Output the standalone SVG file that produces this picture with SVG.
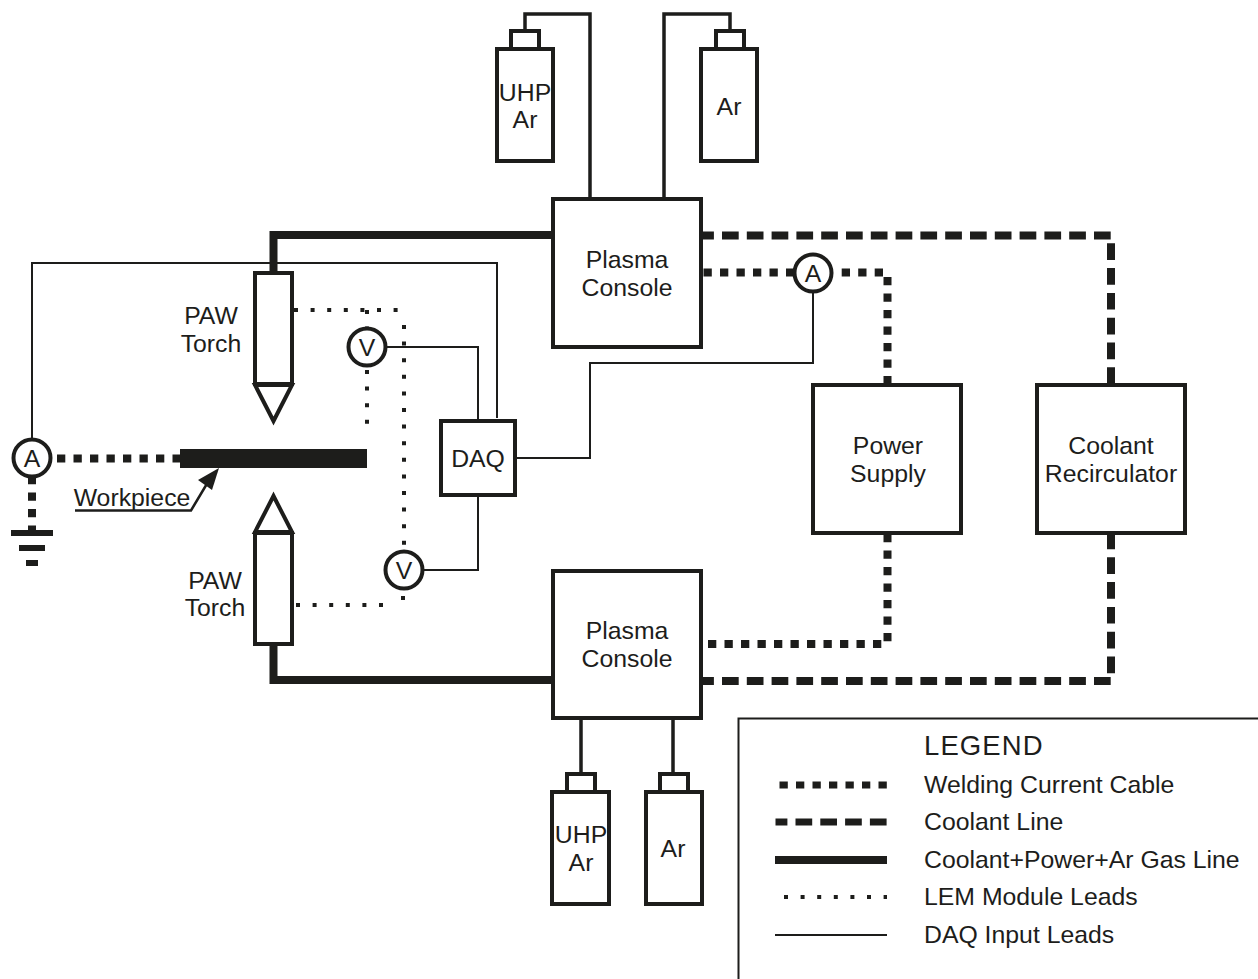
<svg xmlns="http://www.w3.org/2000/svg" width="1258" height="979" viewBox="0 0 1258 979">
<style>
text{font-family:"Liberation Sans",Arial,sans-serif;font-size:24.8px;fill:#1d1d1b;text-anchor:middle}
.l{text-anchor:start}
.box{fill:#fff;stroke:#1d1d1b;stroke-width:4}
.m{fill:#fff;stroke:#1d1d1b;stroke-width:4}
.f{fill:none;stroke:#1d1d1b}
.weld{stroke-width:8;stroke-dasharray:8.3 8.2}
.cool{stroke-width:8;stroke-dasharray:16.7 8.1;stroke-dashoffset:4.8}
.gas{stroke-width:8}
.lem{stroke-width:4;stroke-dasharray:4 12.6}
.daq{stroke-width:2}
.gasl{stroke-width:3.500}
</style>
<g id="connectors">
<path class="f gasl" d="M590 199V14H525V30M664 199V14H730V30M581 719V773M673 719V773"/>
<path class="f gas" d="M552 235H273.500V272M552 680H273.500V644"/>
<path class="f cool" d="M702 235.500H1111V384M702 681H1111V534"/>
<path class="f weld" d="M703.500 272.500H793M841.700 272.500H884M887.500 277V384M708 644H884M887.500 534V644M57 458.500H180M32 476V530"/>
<path class="f lem" d="M294 310H406M404 325V545M296 605H394M403 596V603M367 310V334M367 370V436"/>
<path class="f daq" d="M32 438V263H497V418M386 347H478V420M422 570H478V496M517 458H590V363H813V292"/>
<path class="f" stroke-width="2.500" d="M75 510.500H191L208 482"/>
</g>
<g id="workpiece"><rect x="180" y="449" width="187" height="19" fill="#1d1d1b"/>
<path d="M219 468L198 480L212 490Z" fill="#1d1d1b"/>
<text x="132" y="506">Workpiece</text></g>
<g id="ground"><path d="M11 533H53M19 548H45M26 563H38" stroke="#1d1d1b" stroke-width="6" fill="none"/></g>
<g id="torch-top"><rect class="box" x="255" y="273" width="37" height="111"/><path class="box" d="M255 385H292L273.500 421Z"/><text x="211" y="324">PAW</text><text x="211" y="352">Torch</text></g>
<g id="torch-bottom"><rect class="box" x="255" y="533" width="37" height="111"/><path class="box" d="M255 532H292L273.500 496Z"/><text x="215" y="589">PAW</text><text x="215" y="616">Torch</text></g>
<g id="ammeter-left"><circle class="m" cx="32" cy="458" r="18.500"/><text x="32" y="467">A</text></g>
<g id="ammeter-right"><circle class="m" cx="813" cy="273" r="18.500"/><text x="813" y="282">A</text></g>
<g id="volt-top"><circle class="m" cx="367" cy="347" r="18.500"/><text x="367" y="356">V</text></g>
<g id="volt-bottom"><circle class="m" cx="404" cy="570" r="18.500"/><text x="404" y="579">V</text></g>
<g id="daq"><rect class="box" x="441" y="421" width="74" height="74"/><text x="478" y="467">DAQ</text></g>
<g id="console-top"><rect class="box" x="553" y="199" width="148" height="148"/><text x="627" y="268">Plasma</text><text x="627" y="296">Console</text></g>
<g id="console-bottom"><rect class="box" x="553" y="571" width="148" height="147"/><text x="627" y="639">Plasma</text><text x="627" y="667">Console</text></g>
<g id="power"><rect class="box" x="813" y="385" width="148" height="148"/><text x="888" y="454">Power</text><text x="888" y="482">Supply</text></g>
<g id="recirc"><rect class="box" x="1037" y="385" width="148" height="148"/><text x="1111" y="454">Coolant</text><text x="1111" y="482">Recirculator</text></g>
<g id="tank-uhp-top"><rect class="box" x="511" y="31" width="28" height="18"/><rect class="box" x="497" y="49" width="56" height="112"/><text x="525" y="101">UHP</text><text x="525" y="128">Ar</text></g>
<g id="tank-ar-top"><rect class="box" x="716" y="31" width="28" height="18"/><rect class="box" x="701" y="49" width="56" height="112"/><text x="729" y="115">Ar</text></g>
<g id="tank-uhp-bottom"><rect class="box" x="567" y="774" width="28" height="18"/><rect class="box" x="552" y="792" width="57" height="112"/><text x="581" y="843">UHP</text><text x="581" y="871">Ar</text></g>
<g id="tank-ar-bottom"><rect class="box" x="660" y="774" width="28" height="18"/><rect class="box" x="646" y="792" width="56" height="112"/><text x="673" y="857">Ar</text></g>
<g id="legend">
<path class="f" stroke-width="2" d="M738.500 979V718.500H1258"/>
<text class="l" x="924" y="755" style="font-size:27.500px;letter-spacing:1.100px">LEGEND</text>
<path class="f weld" style="stroke-width:7" d="M779.500 785H887"/><path class="f cool" style="stroke-width:7" d="M775.500 822H887"/><path class="f gas" d="M775 860H887"/><path class="f lem" d="M784 897H887"/><path class="f daq" d="M775 935H887"/>
<text class="l" x="924" y="793">Welding Current Cable</text>
<text class="l" x="924" y="830">Coolant Line</text>
<text class="l" x="924" y="868">Coolant+Power+Ar Gas Line</text>
<text class="l" x="924" y="905">LEM Module Leads</text>
<text class="l" x="924" y="943">DAQ Input Leads</text>
</g>
</svg>
